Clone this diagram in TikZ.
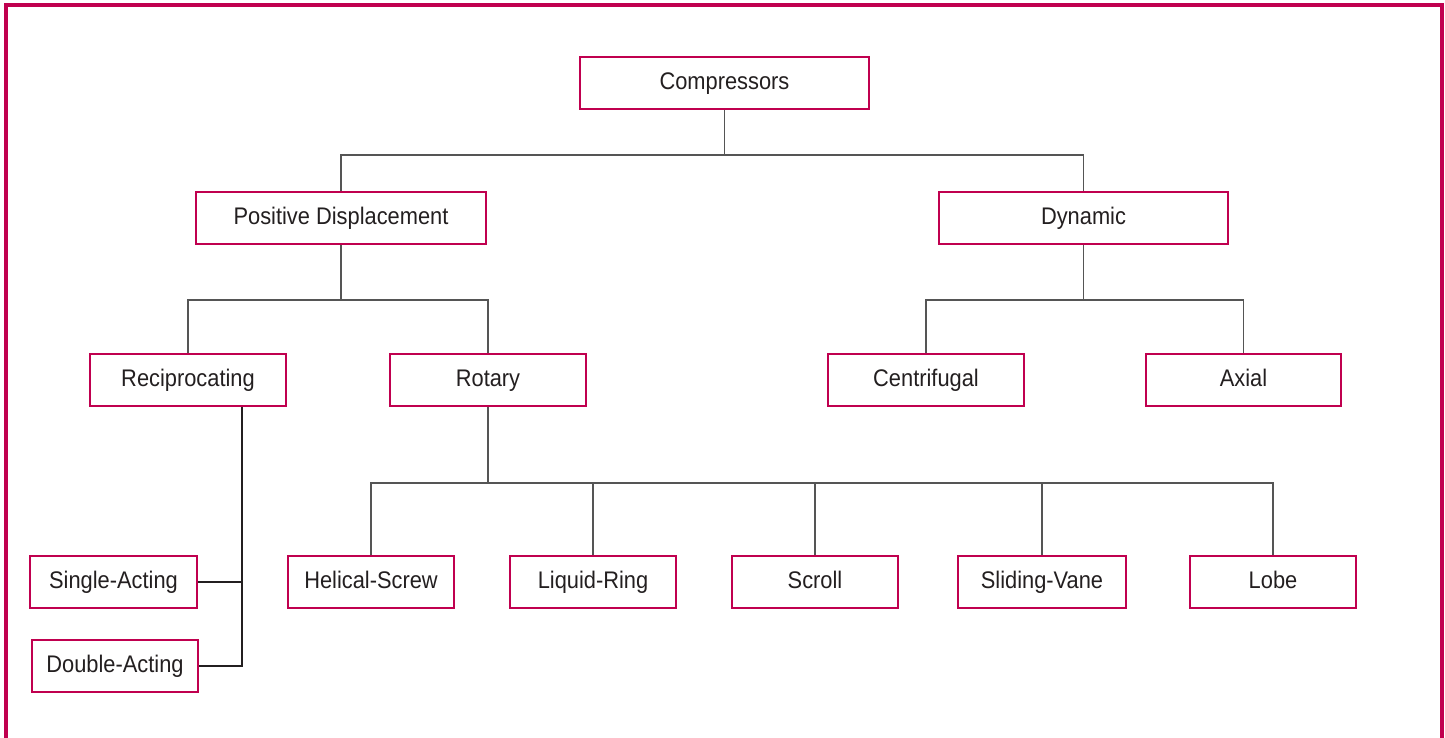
\documentclass[tikz,border=0pt]{standalone}
\usepackage{fontspec}
\setmainfont{Liberation Sans}[FakeStretch=0.91]
\definecolor{crim}{HTML}{C0004F}
\definecolor{txt}{HTML}{231F20}
\definecolor{ln}{HTML}{555555}
\begin{document}
\begin{tikzpicture}[x=1pt,y=-1pt,
  box/.style={draw=crim,line width=2.8pt,fill=white,minimum height=52pt,inner sep=0pt,text=txt,text height=17.5pt,text depth=4.5pt,font=\fontsize{24}{28}\selectfont},
  conn/.style={draw=ln,line width=1.3pt}]
\useasboundingbox (0,0) rectangle (1445,738);
\draw[crim,line width=4pt] (6,740) -- (6,5.5) -- (1442,5.5) -- (1442,740);
% nodes
\node[box,minimum width=289pt] (comp) at (724.5,83) {Compressors};
\node[box,minimum width=290pt] (pd) at (341,218) {Positive Displacement};
\node[box,minimum width=289pt] (dyn) at (1083.5,218) {Dynamic};
\node[box,minimum width=196pt] (rec) at (188,380) {Reciprocating};
\node[box,minimum width=196pt] (rot) at (488,380) {Rotary};
\node[box,minimum width=196pt] (cen) at (926,380) {Centrifugal};
\node[box,minimum width=195pt] (axi) at (1243.5,380) {Axial};
\node[box,minimum width=167pt] (sa) at (113.5,582) {Single-Acting};
\node[box,minimum width=166pt] (da) at (115,666) {Double-Acting};
\node[box,minimum width=166pt] (hs) at (371,582) {Helical-Screw};
\node[box,minimum width=166pt] (lr) at (593,582) {Liquid-Ring};
\node[box,minimum width=166pt] (scr) at (815,582) {Scroll};
\node[box,minimum width=168pt] (sv) at (1042,582) {Sliding-Vane};
\node[box,minimum width=166pt] (lob) at (1273,582) {Lobe};
% connectors
\coordinate (j1) at (724.5,155);
\coordinate (j2) at (341,300);
\coordinate (j3) at (1083.5,300);
\coordinate (j4) at (488,483);
\coordinate (rv) at (242,407);
\draw[conn] (comp.south) -- (j1);
\draw[conn] (pd.north) -- (pd.north |- j1) -- (dyn.north |- j1) -- (dyn.north);
\draw[conn] (pd.south) -- (j2);
\draw[conn] (rec.north) -- (rec.north |- j2) -- (rot.north |- j2) -- (rot.north);
\draw[conn] (dyn.south) -- (j3);
\draw[conn] (cen.north) -- (cen.north |- j3) -- (axi.north |- j3) -- (axi.north);
\draw[conn] (rot.south) -- (j4);
\draw[conn] (hs.north) -- (hs.north |- j4) -- (lob.north |- j4) -- (lob.north);
\draw[conn] (lr.north) -- (lr.north |- j4);
\draw[conn] (scr.north) -- (scr.north |- j4);
\draw[conn] (sv.north) -- (sv.north |- j4);
\draw[conn,draw=txt] (rv) -- (rv |- da.east) -- (da.east);
\draw[conn,draw=txt] (sa.east) -- (rv |- sa.east);
\end{tikzpicture}
\end{document}
